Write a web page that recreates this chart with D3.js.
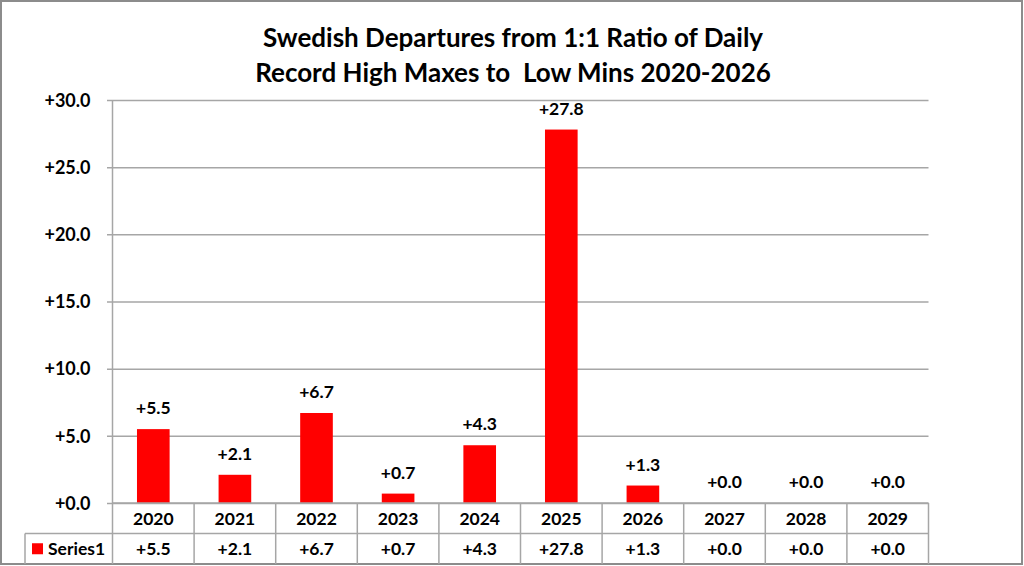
<!DOCTYPE html>
<html>
<head>
<meta charset="utf-8">
<script src="https://cdn.jsdelivr.net/npm/d3@7"></script>
<style>
  html, body { margin: 0; padding: 0; background: #fff; }
  svg { display: block; }
  text { font-family: Lato, "Open Sans", sans-serif; font-weight: bold; fill: #000; }
</style>
</head>
<body>
<div id="chart"></div>
<script>
// data
const years = ["2020", "2021", "2022", "2023", "2024", "2025", "2026", "2027", "2028", "2029"];
const series1 = [5.5, 2.1, 6.7, 0.7, 4.3, 27.8, 1.3, 0.0, 0.0, 0.0];
const seriesName = "Series1";
const yTicks = [0, 5, 10, 15, 20, 25, 30];
const titleLines = ["Swedish Departures from 1:1 Ratio of Daily", "Record High Maxes to  Low Mins 2020-2026"];

const width = 1024, height = 566;
const plot = { left: 112.5, right: 928.5, top: 100, bottom: 503 };
const rowH = 30.5;
const gridColor = "#a6a6a6";
const labelSize = "17.5px";
const fmt = d3.format("+.1f");

const svg = d3.select("#chart").append("svg")
  .attr("width", width)
  .attr("height", height);

// outer frame
svg.append("rect")
  .attr("x", 1).attr("y", 1)
  .attr("width", width - 3).attr("height", height - 3)
  .attr("fill", "#fff")
  .attr("stroke", "#8c8c8c")
  .attr("stroke-width", 2);

// title
svg.append("text")
  .attr("text-anchor", "middle")
  .style("font-size", "26px")
  .attr("xml:space", "preserve")
  .selectAll("tspan")
  .data(titleLines)
  .enter()
  .append("tspan")
  .attr("x", 513)
  .attr("y", (d, i) => 47 + i * 35)
  .text(d => d);

const x = d3.scaleBand()
  .domain(years)
  .range([plot.left, plot.right])
  .paddingInner(0.6)
  .paddingOuter(0.3);

const xCol = d3.scaleBand()
  .domain(years)
  .range([plot.left, plot.right]);

const y = d3.scaleLinear()
  .domain([0, 30])
  .range([plot.bottom, plot.top]);

// gridlines + y labels
const yAxis = d3.axisLeft(y)
  .tickValues(yTicks)
  .tickFormat(fmt)
  .tickSize(-(plot.right - plot.left))
  .tickPadding(22);

const gy = svg.append("g")
  .attr("transform", `translate(${plot.left},0)`)
  .call(yAxis);
gy.select(".domain").remove();
gy.selectAll(".tick line")
  .attr("x1", -5.5)
  .attr("stroke", gridColor)
  .attr("stroke-width", 1.5);
gy.selectAll(".tick text")
  .style("font-size", "18px")
  .attr("font-family", null)
  .attr("dy", "0.35em");

// bars
svg.append("g")
  .selectAll("rect")
  .data(series1)
  .enter()
  .append("rect")
  .attr("x", (d, i) => x(years[i]))
  .attr("y", d => y(d))
  .attr("width", x.bandwidth())
  .attr("height", d => y(0) - y(d))
  .attr("fill", "#ff0000");

// value labels
svg.append("g")
  .selectAll("text")
  .data(series1)
  .enter()
  .append("text")
  .attr("x", (d, i) => xCol(years[i]) + xCol.bandwidth() / 2)
  .attr("y", d => y(d) - 15)
  .attr("text-anchor", "middle")
  .style("font-size", labelSize)
  .text(d => fmt(d));

// data table
const table = svg.append("g");
const tableBottom = plot.bottom + rowH * 2;
const lineStyle = sel => sel.attr("stroke", gridColor).attr("stroke-width", 1.5);

// left axis line runs through table
table.append("line")
  .attr("x1", plot.left).attr("x2", plot.left)
  .attr("y1", plot.top).attr("y2", tableBottom)
  .call(lineStyle);
// horizontal rules
table.append("line")
  .attr("x1", plot.left).attr("x2", plot.right)
  .attr("y1", plot.bottom).attr("y2", plot.bottom)
  .call(lineStyle);
table.append("line")
  .attr("x1", 25).attr("x2", plot.right)
  .attr("y1", plot.bottom + rowH).attr("y2", plot.bottom + rowH)
  .call(lineStyle);
table.append("line")
  .attr("x1", 25).attr("x2", 25)
  .attr("y1", plot.bottom + rowH).attr("y2", tableBottom)
  .call(lineStyle);
// column separators
table.selectAll("line.col")
  .data(years)
  .enter()
  .append("line")
  .attr("class", "col")
  .attr("x1", d => xCol(d) + xCol.bandwidth())
  .attr("x2", d => xCol(d) + xCol.bandwidth())
  .attr("y1", plot.bottom).attr("y2", tableBottom)
  .call(lineStyle);

// year header row
table.selectAll("text.year")
  .data(years)
  .enter()
  .append("text")
  .attr("class", "year")
  .attr("x", d => xCol(d) + xCol.bandwidth() / 2)
  .attr("y", plot.bottom + rowH / 2)
  .attr("dy", "0.36em")
  .attr("text-anchor", "middle")
  .style("font-size", labelSize)
  .text(d => d);

// value row
table.selectAll("text.val")
  .data(series1)
  .enter()
  .append("text")
  .attr("class", "val")
  .attr("x", (d, i) => xCol(years[i]) + xCol.bandwidth() / 2)
  .attr("y", plot.bottom + rowH * 1.5)
  .attr("dy", "0.36em")
  .attr("text-anchor", "middle")
  .style("font-size", labelSize)
  .text(d => fmt(d));

// legend key + series name
table.append("rect")
  .attr("x", 32).attr("y", plot.bottom + rowH * 1.5 - 5.5)
  .attr("width", 11).attr("height", 11)
  .attr("fill", "#ff0000");
table.append("text")
  .attr("x", 48)
  .attr("y", plot.bottom + rowH * 1.5)
  .attr("dy", "0.36em")
  .style("font-size", labelSize)
  .text(seriesName);
</script>
</body>
</html>
